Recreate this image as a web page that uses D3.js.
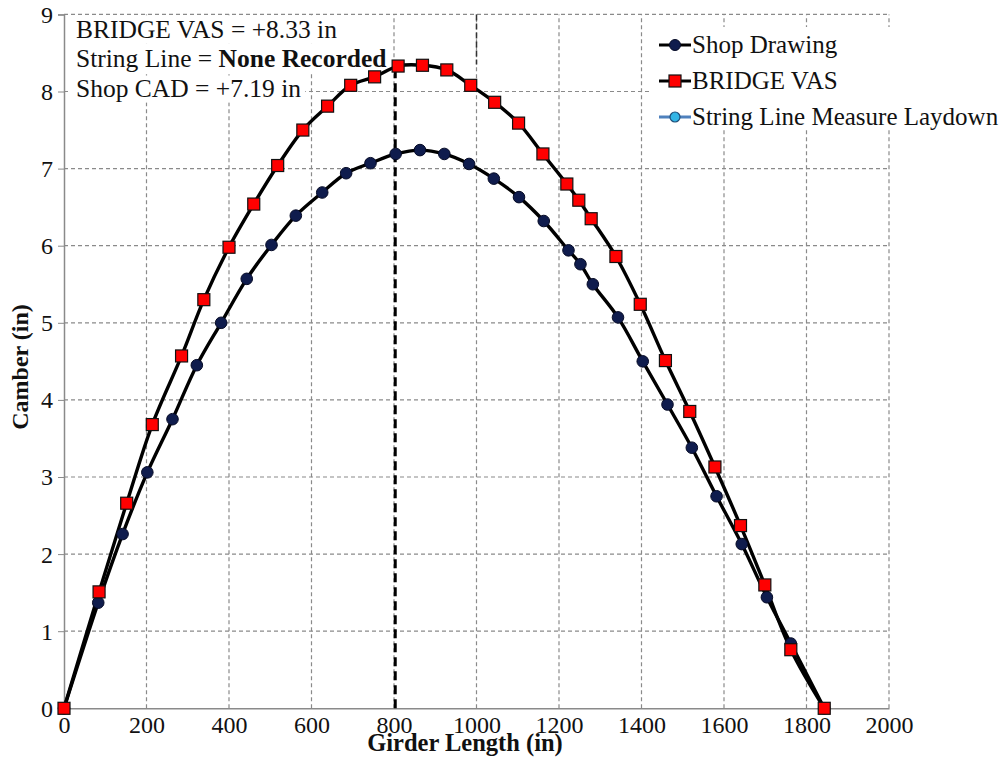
<!DOCTYPE html>
<html>
<head>
<meta charset="utf-8">
<script src="https://cdn.jsdelivr.net/npm/d3@7"></script>
<style>
body{margin:0;background:#fff;}
svg{display:block;}
</style>
</head>
<body>
<svg id="chart" width="1007" height="757"></svg>
<script>
// ---- data ----
const shopX = [0, 83, 142, 202, 263, 322, 381, 443, 503, 562, 626, 684, 743, 804, 863, 922, 982, 1042, 1103, 1163, 1223, 1252, 1282, 1343, 1403, 1463, 1522, 1582, 1643, 1704, 1762, 1843];
const shopY = [0, 1.37, 2.26, 3.06, 3.75, 4.45, 5.00, 5.57, 6.01, 6.39, 6.69, 6.94, 7.07, 7.19, 7.24, 7.19, 7.06, 6.87, 6.63, 6.32, 5.94, 5.76, 5.50, 5.07, 4.50, 3.94, 3.38, 2.75, 2.13, 1.44, 0.84, 0];
const vasX = [0, 85, 152, 214, 285, 339, 400, 460, 518, 579, 639, 695, 753, 810, 869, 928, 986, 1044, 1102, 1161, 1219, 1248, 1278, 1338, 1397, 1458, 1517, 1578, 1640, 1699, 1762, 1843];
const vasY = [0, 1.51, 2.66, 3.68, 4.57, 5.30, 5.98, 6.54, 7.04, 7.50, 7.81, 8.08, 8.19, 8.33, 8.34, 8.28, 8.08, 7.86, 7.59, 7.19, 6.80, 6.59, 6.35, 5.86, 5.24, 4.51, 3.85, 3.13, 2.37, 1.60, 0.76, 0];
const xTicks = [0, 200, 400, 600, 800, 1000, 1200, 1400, 1600, 1800, 2000];
const yTicks = [0, 1, 2, 3, 4, 5, 6, 7, 8, 9];
const seriesNames = ["Shop Drawing", "BRIDGE VAS", "String Line Measure Laydown"];
const annotationLines = [
  [["BRIDGE VAS = +8.33 in", false]],
  [["String Line = ", false], ["None Recorded", true]],
  [["Shop CAD = +7.19 in", false]]
];
const peakX = 803, peakTop = 8.33;
const xTitle = "Girder Length (in)", yTitle = "Camber (in)";

// ---- layout ----
const FONT = '"Liberation Serif", "Times New Roman", Times, serif';
const svg = d3.select("#chart").style("font-family", FONT);
const x = d3.scaleLinear().domain([0, 2000]).range([64, 889]);
const y = d3.scaleLinear().domain([0, 9]).range([708.3, 14.4]);
const gridColor = "#8a8a8a";

// gridlines
const grid = svg.append("g");
grid.selectAll("line.h").data(yTicks.filter(d => d > 0)).join("line")
  .attr("x1", x(0)).attr("x2", x(2000)).attr("y1", d => y(d)).attr("y2", d => y(d))
  .attr("stroke", gridColor).attr("stroke-width", 1.2).attr("stroke-dasharray", "4,3");
grid.selectAll("line.v").data(xTicks.filter(d => d > 0)).join("line")
  .attr("x1", d => x(d)).attr("x2", d => x(d)).attr("y1", y(0)).attr("y2", y(9))
  .attr("stroke", gridColor).attr("stroke-width", 1.2).attr("stroke-dasharray", "4,3");

// axes
const xAxis = svg.append("g").attr("transform", `translate(0,${y(0)})`)
  .call(d3.axisBottom(x).tickValues(xTicks).tickSize(0).tickPadding(7).tickFormat(d3.format("d")));
const yAxis = svg.append("g").attr("transform", `translate(${x(0)},0)`)
  .call(d3.axisLeft(y).tickValues(yTicks).tickSize(6).tickPadding(5).tickFormat(d3.format("d")));
[xAxis, yAxis].forEach(a => {
  a.attr("font-family", null);
  a.select(".domain").attr("stroke", gridColor).attr("stroke-width", 1.5);
  a.selectAll(".tick line").attr("stroke", gridColor);
  a.selectAll("text").style("font-family", FONT).style("font-size", "24px").attr("fill", "#111");
});
yAxis.selectAll("text").attr("dy", "0.33em");
xAxis.selectAll("text").attr("dy", "0.72em");

// annotation block with white backgrounds
const ann = svg.append("g");
const annBase = [37.5, 67, 96.5];
annotationLines.forEach((parts, i) => {
  const t = ann.append("text").attr("x", 76).attr("y", annBase[i])
    .style("font-family", FONT).style("font-size", "25.5px").attr("fill", "#111");
  parts.forEach(p => t.append("tspan").text(p[0]).style("font-weight", p[1] ? "bold" : "normal"));
  const bb = t.node().getBBox();
  ann.insert("rect", "text").attr("x", bb.x - 8).attr("y", bb.y + 2).attr("width", bb.width + 12).attr("height", bb.height - 2).attr("fill", "#fff");
});

// legend background
svg.append("rect").attr("x", 652).attr("y", 27).attr("width", 355).attr("height", 103).attr("fill", "#fff");

// dark dashed segment near top of 1000
svg.append("line").attr("x1", x(1000)).attr("x2", x(1000)).attr("y1", y(9)).attr("y2", y(8.35))
  .attr("stroke", "#333").attr("stroke-width", 1.5).attr("stroke-dasharray", "6,3");

// peak dashed line
svg.append("line").attr("x1", x(peakX)).attr("x2", x(peakX)).attr("y1", y(0)).attr("y2", y(peakTop))
  .attr("stroke", "#000").attr("stroke-width", 3).attr("stroke-dasharray", "9,5");

// series lines
const line = d3.line().x(d => x(d[0])).y(d => y(d[1])).curve(d3.curveCatmullRom.alpha(0.5));
const shopData = shopX.map((v, i) => [v, shopY[i]]);
const vasData = vasX.map((v, i) => [v, vasY[i]]);
svg.append("path").datum(shopData).attr("d", line).attr("fill", "none").attr("stroke", "#000").attr("stroke-width", 3.4);
svg.append("path").datum(vasData).attr("d", line).attr("fill", "none").attr("stroke", "#000").attr("stroke-width", 3.4);

svg.append("g").selectAll("circle").data(shopData).join("circle")
  .attr("cx", d => x(d[0])).attr("cy", d => y(d[1])).attr("r", 5.8)
  .attr("fill", "#0f1c4d").attr("stroke", "#050a25").attr("stroke-width", 1);
const sq = 12;
svg.append("g").selectAll("rect").data(vasData).join("rect")
  .attr("x", d => x(d[0]) - sq / 2).attr("y", d => y(d[1]) - sq / 2).attr("width", sq).attr("height", sq)
  .attr("fill", "#ff0000").attr("stroke", "#111").attr("stroke-width", 1.2);

// legend
const lg = svg.append("g");
const rowsY = [45, 81, 117];
seriesNames.forEach((name, i) => {
  const cy = rowsY[i];
  lg.append("line").attr("x1", 659).attr("x2", 691).attr("y1", cy).attr("y2", cy)
    .attr("stroke", i === 2 ? "#4f81bd" : "#000").attr("stroke-width", 3);
  if (i === 0) lg.append("circle").attr("cx", 675).attr("cy", cy).attr("r", 5.5).attr("fill", "#0f1c4d").attr("stroke", "#050a25");
  if (i === 1) lg.append("rect").attr("x", 669).attr("y", cy - 6).attr("width", 12).attr("height", 12).attr("fill", "#ff0000").attr("stroke", "#111").attr("stroke-width", 1.2);
  if (i === 2) lg.append("circle").attr("cx", 675).attr("cy", cy).attr("r", 5).attr("fill", "#33b5e5").attr("stroke", "#1f4e79").attr("stroke-width", 1.2);
  lg.append("text").attr("x", 692).attr("y", cy + 8).style("font-family", FONT).style("font-size", "25px").attr("fill", "#111").text(name);
});

// titles
svg.append("text").attr("x", 465).attr("y", 751).attr("text-anchor", "middle")
  .style("font-family", FONT).style("font-size", "24.5px").style("font-weight", "bold").attr("fill", "#111").text(xTitle);
svg.append("text").attr("transform", "translate(28,367) rotate(-90)").attr("text-anchor", "middle")
  .style("font-family", FONT).style("font-size", "24px").style("font-weight", "bold").attr("fill", "#111").text(yTitle);
</script>
</body>
</html>
